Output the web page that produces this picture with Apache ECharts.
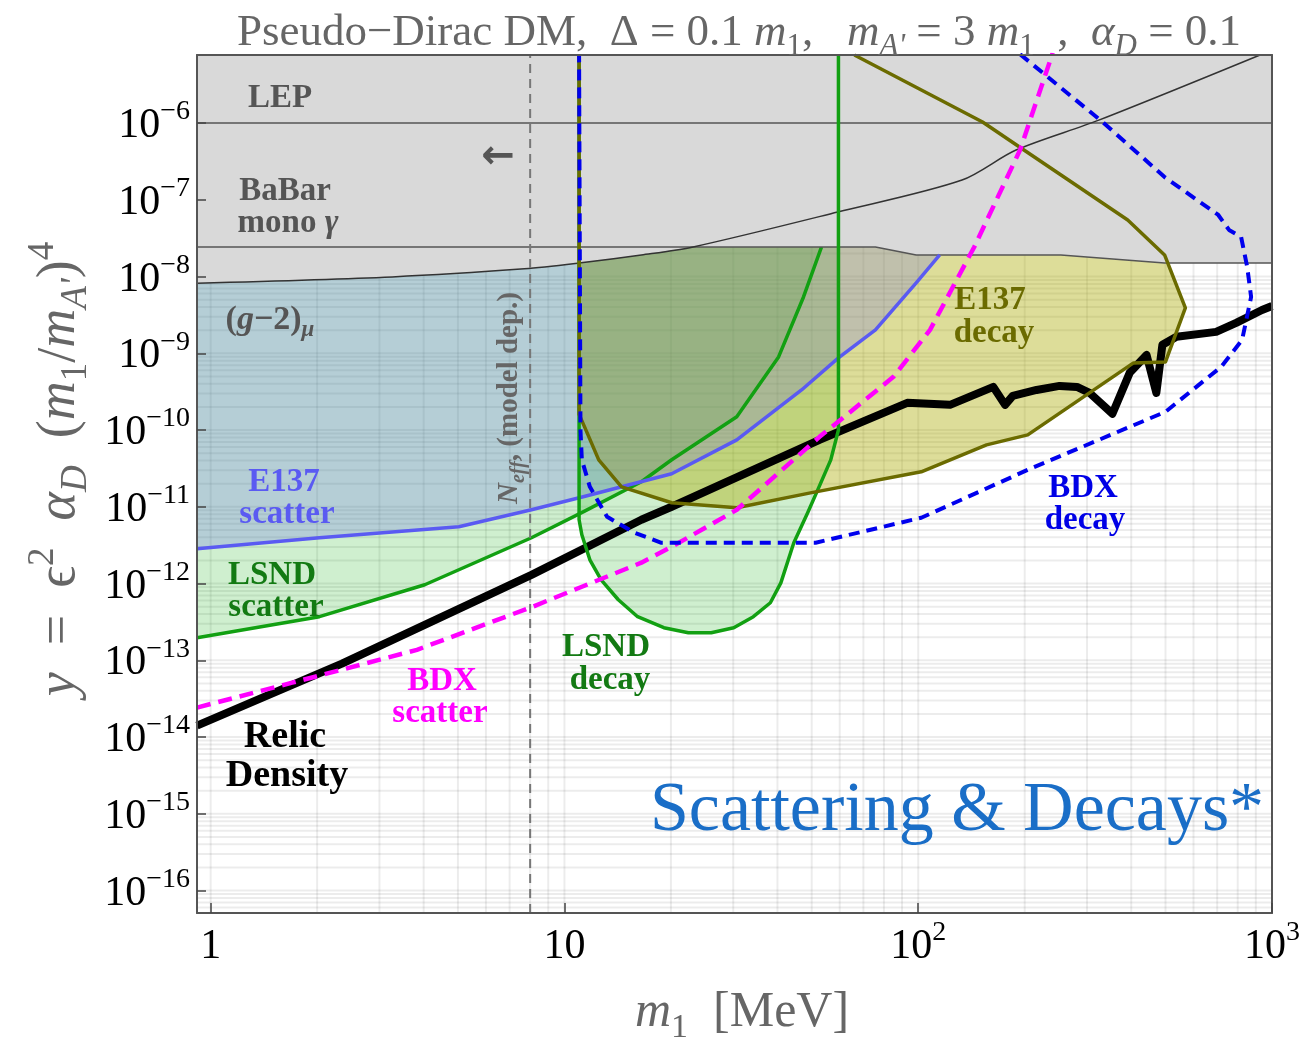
<!DOCTYPE html>
<html><head><meta charset="utf-8">
<script src="https://cdn.jsdelivr.net/npm/echarts@6/dist/echarts.min.js"></script>
<style>html,body{margin:0;padding:0;background:#fff}#c{width:1301px;height:1044px}</style>
</head><body><div id="c"></div>
<script>
// ---------------- data (m1 in MeV, y dimensionless) ----------------
const X_MIN = 0.915, X_MAX = 1000, Y_MIN = 5.1e-17, Y_MAX = 7.7e-6;
const xTickValues = [1, 10, 100, 1000];
const yTickValues = [1e-16, 1e-15, 1e-14, 1e-13, 1e-12, 1e-11, 1e-10, 1e-9, 1e-8, 1e-7, 1e-6];

const g2Curve = [[0.915, 8.2e-9], [3.26, 9.9e-9], [7.71, 1.26e-8], [11.0, 1.5e-8], [16.5, 1.91e-8], [23.1, 2.43e-8],
  [59.2, 6.93e-8], [133, 1.81e-7], [189, 4.45e-7], [324, 1.09e-6], [925, 7.7e-6]];
const babarBoundary = [[0.915, 2.43e-8], [75.7, 2.43e-8], [98.7, 1.91e-8], [253, 1.91e-8], [497, 1.5e-8], [1000, 1.5e-8]];
const lepLine = [[0.915, 1e-6], [1000, 1e-6]];

const e137Scatter = [[0.915, 2.84e-12], [2.03, 3.95e-12], [5.03, 5.49e-12], [8.07, 9.14e-12], [11.3, 1.35e-11],
  [20.1, 2.69e-11], [30.7, 7.45e-11], [46.8, 3.33e-10], [59.5, 8.7e-10], [75.7, 2.02e-9], [98.7, 8.26e-9], [115, 1.91e-8]];
const lsndScatter = [[0.915, 1.97e-13], [2.03, 3.70e-13], [4.03, 9.64e-13], [8.07, 3.95e-12], [11.3, 8.6e-12],
  [16.5, 2.12e-11], [20.1, 4.10e-11], [30.7, 1.49e-10], [40.3, 8.98e-10], [47.4, 5.42e-9], [53.3, 2.43e-8]];
const lsndDecay = [[11.0, 7.7e-6], [11.0, 6.78e-12], [11.2, 4.32e-12], [11.8, 2.04e-12], [12.7, 1.12e-12], [14.2, 6.15e-13],
  [16.1, 3.70e-13], [19.1, 2.66e-13], [22.4, 2.29e-13], [26.0, 2.29e-13], [30.1, 2.66e-13], [34.2, 3.70e-13],
  [38.2, 5.62e-13], [40.9, 1.02e-12], [44.5, 3.40e-12], [48.7, 8.35e-12], [52.0, 1.66e-11], [56.6, 4.09e-11],
  [59.5, 1.0e-10], [59.5, 7.7e-6]];
const e137Decay = [[11.0, 7.7e-6], [11.0, 1.6e-10], [11.4, 1.10e-10], [12.5, 4.09e-11], [14.5, 1.82e-11], [20.1, 1.13e-11],
  [30.7, 9.7e-12], [49.6, 1.52e-11], [102, 2.86e-11], [156, 6.41e-11], [204, 8.65e-11], [406, 7.50e-10],
  [500, 7.73e-10], [569, 3.90e-9], [497, 1.91e-8], [391, 5.46e-8], [199, 4.45e-7], [152, 1.03e-6], [66.0, 7.7e-6]];
const bdxDecay = [[194, 7.9e-6], [332, 1.03e-6], [497, 1.98e-7], [705, 6.34e-8], [756, 4.05e-8], [818, 3.28e-8],
  [851, 1.33e-8], [873, 5.42e-9], [823, 1.49e-9], [718, 6.65e-10], [500, 1.73e-10], [204, 3.03e-11], [102, 7.2e-12],
  [51.3, 3.40e-12], [18.8, 3.40e-12], [15.8, 4.58e-12], [13.2, 7.41e-12], [11.8, 1.82e-11], [11.2, 4.09e-11],
  [11.1, 1.0e-10], [11.0, 7.9e-6]];
const bdxScatter = [[0.915, 2.42e-14], [1.70, 5.11e-14], [2.35, 7.55e-14], [3.83, 1.37e-13], [8.13, 4.99e-13],
  [16.5, 1.87e-12], [20.1, 3.01e-12], [30.7, 9.14e-12], [52.6, 8.15e-11], [85.1, 4.93e-10], [108, 2.02e-9],
  [144, 2.43e-8], [194, 4.45e-7], [240, 8.2e-6]];
const relicDensity = [[0.915, 1.41e-14], [2.35, 9.04e-14], [8.07, 1.30e-12], [16.5, 6.78e-12], [20.1, 1.0e-11],
  [52.6, 7.45e-11], [93.1, 2.26e-10], [123, 2.13e-10], [163, 3.65e-10], [176, 2.13e-10], [185, 2.79e-10],
  [216, 3.33e-10], [251, 3.76e-10], [281, 3.65e-10], [305, 3.05e-10], [354, 1.63e-10], [396, 5.56e-10],
  [442, 9.53e-10], [471, 3.05e-10], [490, 1.29e-9], [537, 1.64e-9], [695, 1.90e-9], [792, 2.49e-9],
  [937, 3.67e-9], [1000, 4.14e-9]];
const nEffMass = 8.0;

// ---------------- helpers ----------------
const SERIF = '"Liberation Serif", "Times New Roman", serif';
const L = v => Math.log10(v);
const toLog = arr => arr.map(p => [L(p[0]), L(p[1])]);

function polygonSeries(name, pts, color, z) {
  const lp = toLog(pts);
  return {
    type: 'custom', name, coordinateSystem: 'cartesian2d', z, silent: true, clip: true,
    data: [lp[0]],
    renderItem: (params, api) => ({
      type: 'polygon',
      shape: { points: lp.map(p => api.coord(p)) },
      style: { fill: color }
    })
  };
}
function lineSeries(name, pts, color, width, type, z, smooth) {
  return {
    type: 'line', name, data: toLog(pts), symbol: 'none', showSymbol: false, silent: true, z, clip: true,
    smooth: smooth || false,
    lineStyle: { color, width, type: type || 'solid', cap: 'butt', join: 'round' }
  };
}

// minor/major grid lines (decorative)
const gridItems = [];
for (let e = 0; e <= 2; e++) for (let k = 1; k <= 9; k++) {
  const v = k * Math.pow(10, e); if (v > X_MIN && v < X_MAX) gridItems.push([L(v), L(Y_MIN), 0]);
}
for (let e = -17; e <= -6; e++) for (let k = 1; k <= 9; k++) {
  const v = k * Math.pow(10, e); if (v > Y_MIN && v < Y_MAX) gridItems.push([L(X_MIN), L(v), 1]);
}
const gridSeries = {
  type: 'custom', name: 'grid', coordinateSystem: 'cartesian2d', z: 1, silent: true,
  dimensions: ['x', 'y', 'k'], encode: { x: 0, y: 1 }, data: gridItems,
  renderItem: (params, api) => {
    const k = api.value(2);
    let p1, p2;
    if (k === 0) { p1 = api.coord([api.value(0), L(Y_MIN)]); p2 = api.coord([api.value(0), L(Y_MAX)]); }
    else { p1 = api.coord([L(X_MIN), api.value(1)]); p2 = api.coord([L(X_MAX), api.value(1)]); }
    return { type: 'line', shape: { x1: p1[0], y1: p1[1], x2: p2[0], y2: p2[1] },
      style: { stroke: 'rgba(0,0,0,0.075)', lineWidth: 2 } };
  }
};

const GRAY = '#d9d9d9';
const tickRich = {
  b: { fontFamily: SERIF, fontSize: 42, color: '#000', lineHeight: 46 },
  sup: { fontFamily: SERIF, fontSize: 28, color: '#000', height: 18, lineHeight: 18, verticalAlign: 'top' }
};
const isInt = v => Math.abs(v - Math.round(v)) < 1e-6;
const fmtX = v => { if (!isInt(v)) return ''; const r = Math.round(v);
  return r === 0 ? '{b|1}' : r === 1 ? '{b|10}' : '{b|10}{sup|' + r + '}'; };
const fmtY = v => { if (!isInt(v)) return ''; const r = Math.round(v); return '{b|10}{sup|−' + (-r) + '}'; };

function rs(size, color, bold, family) {
  const w = bold ? 'bold' : 'normal';
  const Lh = Math.round(size * 1.15);
  const base = { fontFamily: family || SERIF, fontWeight: w, fill: color, color };
  return {
    n: Object.assign({}, base, { fontSize: size, lineHeight: Lh }),
    i: Object.assign({}, base, { fontSize: size, fontStyle: 'italic', lineHeight: Lh }),
    s: Object.assign({}, base, { fontSize: Math.round(size * 0.68), height: Math.round(Lh - 0.62 * size), lineHeight: 4, verticalAlign: 'bottom' }),
    si: Object.assign({}, base, { fontSize: Math.round(size * 0.68), fontStyle: 'italic', height: Math.round(Lh - 0.62 * size), lineHeight: 4, verticalAlign: 'bottom' }),
    p: Object.assign({}, base, { fontSize: Math.round(size * 0.68), height: Math.round(Lh - 0.62 * size), lineHeight: 4, verticalAlign: 'top' })
  };
}
function label(x, y, text, size, color, bold, rot, family) {
  return {
    type: 'text', x, y, rotation: rot || 0, z: 100, silent: true,
    style: {
      text, rich: rs(size, color, bold, family), fill: color,
      font: (bold ? 'bold ' : '') + size + 'px ' + (family || SERIF),
      align: 'center', verticalAlign: 'middle', textAlign: 'center', textVerticalAlign: 'middle'
    }
  };
}

const DGREEN = '#137a13', OLIVE = '#6b6b00', LBLUE = '#5a5af2', MAG = '#ff00ff', BLUE = '#0000e6', GTXT = '#555';

const graphics = [
  label(739, 33, '{n|Pseudo−Dirac DM,  Δ = 0.1 }{i|m}{s|1}{n|,   }{i|m}{si|A\'}{n| = 3 }{i|m}{s|1}{n|  ,  }{i|α}{si|D}{n| = 0.1}', 45, '#666', false),
  label(742, 1013, '{i|m}{s|1}{n|  [MeV]}', 50, '#666', false),
  label(60, 469, '{i|y}{n|  =  ϵ}{p|2}{n|  }{i|α}{si|D}{n|  (}{i|m}{s|1}{n|/}{i|m}{si|A\'}{n|)}{p|4}', 54, '#666', false, Math.PI / 2),
  label(280, 98, '{n|LEP}', 33, GTXT, true),
  label(285, 191, '{n|BaBar}', 33, GTXT, true),
  label(288, 223, '{n|mono }{i|γ}', 33, GTXT, true),
  label(270, 320, '{n|(}{i|g}{n|−2)}{si|μ}', 34, GTXT, true),
  label(498, 158, '{n|←}', 40, GTXT, true, 0, '"DejaVu Sans", sans-serif'),
  label(510, 398, '{i|N}{si|eff}{n|, (model dep.)}', 29, '#666', true, Math.PI / 2),
  label(284, 482, '{n|E137}', 33, LBLUE, true),
  label(287, 514, '{n|scatter}', 33, LBLUE, true),
  label(272, 575, '{n|LSND}', 33, DGREEN, true),
  label(276, 607, '{n|scatter}', 33, DGREEN, true),
  label(285, 737, '{n|Relic}', 38, '#000', true),
  label(287, 776, '{n|Density}', 38, '#000', true),
  label(442, 681, '{n|BDX}', 33, MAG, true),
  label(440, 713, '{n|scatter}', 33, MAG, true),
  label(606, 647, '{n|LSND}', 33, DGREEN, true),
  label(610, 680, '{n|decay}', 33, DGREEN, true),
  label(990, 300, '{n|E137}', 33, OLIVE, true),
  label(994, 333, '{n|decay}', 33, OLIVE, true),
  label(1083, 488, '{n|BDX}', 33, BLUE, true),
  label(1085, 520, '{n|decay}', 33, BLUE, true),
  label(957, 812, '{n|Scattering & Decays*}', 70, '#1a6ec7', false)
];

const series = [
  gridSeries,
  polygonSeries('LSND scatter region', lsndScatter.concat([[53.3, Y_MAX], [X_MIN, Y_MAX]]), 'rgba(0,170,0,0.19)', 2),
  lineSeries('LSND scatter', lsndScatter, '#12a012', 3.5, 'solid', 2),
  polygonSeries('LSND decay region', lsndDecay, 'rgba(0,170,0,0.19)', 2),
  polygonSeries('E137 decay region', e137Decay, 'rgba(170,170,0,0.4)', 2),
  polygonSeries('E137 scatter region', e137Scatter.concat([[115, Y_MAX], [X_MIN, Y_MAX]]), 'rgba(90,90,240,0.22)', 2),
  polygonSeries('g-2 region', g2Curve.concat([[X_MIN, Y_MAX]]), GRAY, 3),
  polygonSeries('BaBar region', babarBoundary.concat([[X_MAX, Y_MAX], [X_MIN, Y_MAX]]), GRAY, 3),
  lineSeries('LEP', lepLine, '#555', 1.5, 'solid', 4),
  lineSeries('BaBar', babarBoundary, '#555', 1.5, 'solid', 4),
  lineSeries('g-2', g2Curve, '#333', 1.5, 'solid', 4, 0.3),
  lineSeries('Neff', [[nEffMass, Y_MIN], [nEffMass, Y_MAX]], '#777', 2, [9, 6], 4),
  lineSeries('E137 scatter', e137Scatter, LBLUE, 3.5, 'solid', 5),
  lineSeries('Relic density', relicDensity, '#000', 8, 'solid', 5),
  lineSeries('LSND decay', lsndDecay, '#12a012', 3.5, 'solid', 6),
  lineSeries('E137 decay', e137Decay, OLIVE, 3.5, 'solid', 6),
  lineSeries('BDX scatter', bdxScatter, MAG, 4.5, [14, 8], 7),
  lineSeries('BDX decay', bdxDecay, '#0000ee', 4, [11, 7], 7)
];

const axisLineStyle = { show: true, onZero: false, lineStyle: { color: '#555', width: 2 } };
const option = {
  animation: false,
  backgroundColor: '#fff',
  grid: { left: 197, right: 29, top: 55, bottom: 131, containLabel: false, outerBoundsMode: 'none' },
  xAxis: [
    { type: 'value', min: L(X_MIN), max: L(X_MAX), splitNumber: 3, z: 10, axisLine: axisLineStyle,
      axisTick: { show: true, inside: true, length: 10, customValues: xTickValues.map(L), lineStyle: { color: '#444', width: 1.5 } },
      axisLabel: { show: true, interval: 0, margin: 11, customValues: xTickValues.map(L), formatter: fmtX, rich: tickRich },
      splitLine: { show: false } },
    { type: 'value', position: 'top', min: L(X_MIN), max: L(X_MAX), splitNumber: 3, z: 10, axisLine: axisLineStyle,
      axisTick: { show: false }, axisLabel: { show: false }, splitLine: { show: false } }
  ],
  yAxis: [
    { type: 'value', min: L(Y_MIN), max: L(Y_MAX), splitNumber: 11, z: 10, axisLine: axisLineStyle,
      axisTick: { show: true, inside: true, length: 9, customValues: yTickValues.map(L), lineStyle: { color: '#444', width: 1.5 } },
      axisLabel: { show: true, interval: 0, margin: 7, padding: [6, 0, 0, 0], customValues: yTickValues.map(L), formatter: fmtY, rich: tickRich },
      splitLine: { show: false } },
    { type: 'value', position: 'right', min: L(Y_MIN), max: L(Y_MAX), splitNumber: 11, z: 10, axisLine: axisLineStyle,
      axisTick: { show: false }, axisLabel: { show: false }, splitLine: { show: false } }
  ],
  series,
  graphic: graphics
};
const chart = echarts.init(document.getElementById('c'), null, { renderer: 'canvas' });
chart.setOption(option);
</script></body></html>
